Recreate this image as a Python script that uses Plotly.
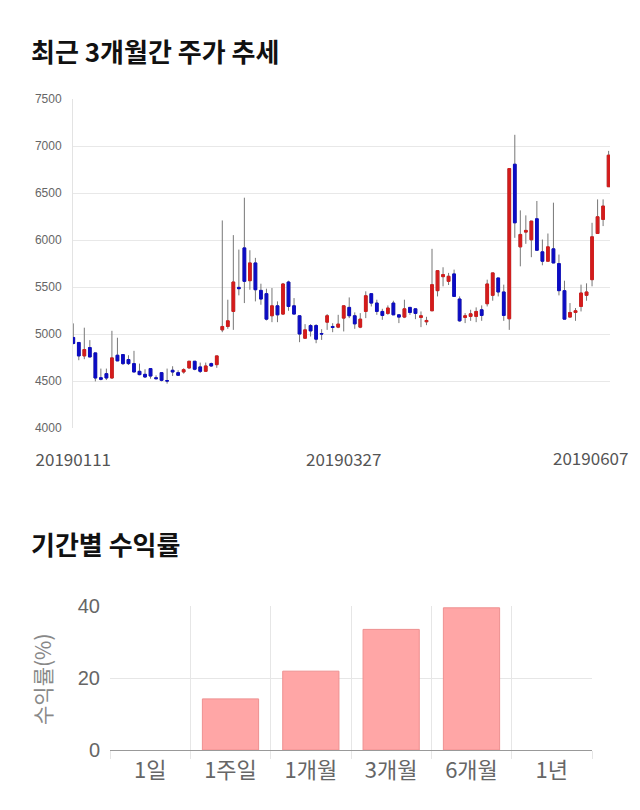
import plotly.graph_objects as go

# ---------------- data ----------------
opens = [4963, 4910, 4767, 4856, 4799, 4535, 4578, 4532, 4774, 4781,
         4728, 4685, 4603, 4571, 4632, 4535, 4589, 4504, 4614, 4589,
         4596, 4639, 4710, 4650, 4603, 4685, 4674, 5044, 5080, 5240,
         5496, 5916, 5567, 5756, 5464, 5429, 5194, 5300, 5212, 5553,
         5300, 5194, 4955, 5090, 5090, 5005, 5126, 5080, 5073, 5169,
         5283, 5194, 5073, 5240, 5429, 5329, 5240, 5219, 5329, 5204,
         5180, 5283, 5268, 5176, 5130, 5247, 5461, 5610, 5560, 5639,
         5372, 5176, 5187, 5187, 5258, 5322, 5411, 5596, 5447, 5162,
         6806, 5927, 6084, 6002, 6226, 5874, 5774, 5906, 5749, 5461,
         5180, 5229, 5293, 5411, 5578, 6069, 6219, 6567]
highs = [5113, 4910, 5067, 4935, 4799, 4632, 4632, 5034, 4960, 4781,
         4774, 4821, 4685, 4625, 4632, 4560, 4589, 4632, 4657, 4614,
         4635, 4710, 4710, 4696, 4696, 4696, 4767, 6208, 5365, 6052,
         5898, 6450, 5891, 5810, 5535, 5482, 5489, 5347, 5543, 5567,
         5382, 5194, 5105, 5105, 5105, 5051, 5212, 5115, 5204, 5300,
         5389, 5230, 5222, 5454, 5429, 5365, 5268, 5304, 5354, 5204,
         5365, 5283, 5268, 5240, 5183, 5906, 5674, 5710, 5650, 5685,
         5400, 5222, 5258, 5283, 5304, 5578, 5650, 5596, 5525, 6760,
         7119, 6315, 6262, 6201, 6415, 6005, 6069, 6397, 5845, 5567,
         5329, 5276, 5525, 5539, 6183, 6432, 6432, 6948]
lows = [4890, 4721, 4732, 4756, 4496, 4507, 4510, 4525, 4714, 4670,
        4670, 4596, 4561, 4532, 4525, 4518, 4496, 4472, 4553, 4553,
        4578, 4632, 4614, 4585, 4596, 4650, 4640, 5019, 5055, 5044,
        5411, 5329, 5471, 5347, 5311, 5144, 5126, 5126, 5204, 5247,
        5212, 4913, 4948, 4973, 4902, 4937, 5044, 5019, 5062, 5027,
        5169, 5055, 5062, 5169, 5293, 5204, 5151, 5204, 5204, 5116,
        5169, 5204, 5158, 5073, 5094, 5247, 5400, 5507, 5521, 5400,
        5130, 5116, 5140, 5126, 5140, 5293, 5354, 5400, 5140, 5044,
        6023, 5720, 5959, 5817, 5891, 5731, 5774, 5756, 5411, 5158,
        5180, 5140, 5240, 5354, 5507, 6069, 6148, 6567]
closes = [4899, 4767, 4835, 4756, 4532, 4518, 4532, 4746, 4714, 4685,
          4685, 4596, 4568, 4543, 4553, 4525, 4507, 4500, 4596, 4561,
          4621, 4710, 4625, 4603, 4660, 4660, 4767, 5080, 5140, 5553,
          5482, 5560, 5756, 5471, 5372, 5158, 5300, 5204, 5532, 5293,
          5212, 5000, 5044, 5033, 4945, 5000, 5194, 5069, 5105, 5300,
          5194, 5108, 5158, 5407, 5329, 5240, 5197, 5276, 5204, 5180,
          5268, 5229, 5219, 5194, 5144, 5525, 5674, 5632, 5614, 5400,
          5140, 5194, 5215, 5240, 5197, 5532, 5650, 5447, 5197, 6760,
          6183, 6059, 6102, 6201, 5891, 5774, 5927, 5756, 5461, 5158,
          5229, 5247, 5436, 5447, 6034, 6247, 6361, 6902]

tick_index = [0, 49]
tick_labels = ["20190111", "20190327"]
last_label = "20190607"
price_ticks = [4000, 4500, 5000, 5500, 6000, 6500, 7000, 7500]

periods = ["1일", "1주일", "1개월", "3개월", "6개월", "1년"]
returns = [None, 14.2, 21.9, 33.5, 39.5, None]

# ---------------- figure ----------------
W, H = 640, 810
def px(x):
    return x / W
def py(y):
    return 1 - y / H

idx = list(range(len(opens)))
body_hi = [max(o, c) for o, c in zip(opens, closes)]
body_lo = [min(o, c) for o, c in zip(opens, closes)]

RED = "#d41c1c"
BLUE = "#0c0cc4"

fig = go.Figure()
# wicks (gray)
fig.add_trace(go.Candlestick(
    x=idx, open=opens, high=highs, low=lows, close=closes,
    increasing=dict(line=dict(color="#777777", width=1), fillcolor="rgba(0,0,0,0)"),
    decreasing=dict(line=dict(color="#777777", width=1), fillcolor="rgba(0,0,0,0)"),
    whiskerwidth=0, hoverinfo="skip", showlegend=False,
    xaxis="x", yaxis="y"))
# bodies (coloured)
fig.add_trace(go.Candlestick(
    x=idx, open=opens, high=body_hi, low=body_lo, close=closes,
    increasing=dict(line=dict(color=RED, width=1), fillcolor=RED),
    decreasing=dict(line=dict(color=BLUE, width=1), fillcolor=BLUE),
    whiskerwidth=0, hoverinfo="skip", showlegend=False,
    xaxis="x", yaxis="y"))

fig.add_trace(go.Bar(
    x=periods, y=returns,
    marker=dict(color="#ffa6a6", line=dict(color="#ee9090", width=1)),
    showlegend=False, hoverinfo="skip",
    xaxis="x2", yaxis="y2"))

fig.update_layout(
    width=W, height=H,
    margin=dict(l=0, r=0, t=0, b=0, autoexpand=False),
    paper_bgcolor="white", plot_bgcolor="white",
    boxgap=0.3,
    bargap=0.3,
    xaxis=dict(
        domain=[px(73), px(610)], range=[-0.05, 97.25], automargin=False,
        rangeslider=dict(visible=False),
        showgrid=False, zeroline=False, showline=False,
        tickmode="array", tickvals=tick_index, ticktext=tick_labels,
        ticks="", ticklabelstandoff=20,
        tickfont=dict(family="Noto Sans CJK KR", size=17, color="#555555"),
    ),
    yaxis=dict(
        domain=[py(428), py(99)], range=[4000, 7500], automargin=False,
        tickmode="array", tickvals=price_ticks,
        showgrid=True, gridcolor="#e8e8e8", gridwidth=1,
        zeroline=False, showline=True, linecolor="#e3e3e3", linewidth=1,
        ticks="", ticklabelstandoff=8,
        tickfont=dict(family="Liberation Sans", size=12, color="#666666"),
    ),
    xaxis2=dict(
        domain=[px(110), px(592)], type="category", automargin=False,
        tickson="boundaries", showgrid=True, gridcolor="#e6e6e6",
        ticks="outside", ticklen=8, tickcolor="#e6e6e6",
        showline=False, zeroline=False, ticklabelstandoff=5,
        tickfont=dict(family="Noto Sans CJK KR", size=22, color="#666666"),
        anchor="y2",
    ),
    yaxis2=dict(
        domain=[py(750), py(606)], range=[0, 40], dtick=20, automargin=False,
        showgrid=True, gridcolor="#e6e6e6",
        zeroline=True, zerolinecolor="#999999", zerolinewidth=1,
        ticks="", ticklabelstandoff=9,
        tickfont=dict(family="Liberation Sans", size=20, color="#666666"),
        anchor="x2",
    ),
    annotations=[
        dict(text="<b>최근 3개월간 주가 추세</b>", xref="paper", yref="paper",
             x=px(29), y=py(50), xanchor="left", yanchor="middle", showarrow=False,
             font=dict(family="Noto Sans CJK KR", size=26, color="#111111")),
        dict(text="<b>기간별 수익률</b>", xref="paper", yref="paper",
             x=px(29), y=py(543), xanchor="left", yanchor="middle", showarrow=False,
             font=dict(family="Noto Sans CJK KR", size=26, color="#111111")),
        dict(text=last_label, xref="paper", yref="paper",
             x=px(630), y=py(457), xanchor="right", yanchor="middle", showarrow=False,
             font=dict(family="Noto Sans CJK KR", size=17, color="#555555")),
        dict(text="수익률(%)", xref="paper", yref="paper", textangle=-90,
             x=px(42), y=py(679), xanchor="center", yanchor="middle", showarrow=False,
             font=dict(family="Noto Sans CJK KR", size=21, color="#888888")),
    ],
)

fig.write_html("out.html")
